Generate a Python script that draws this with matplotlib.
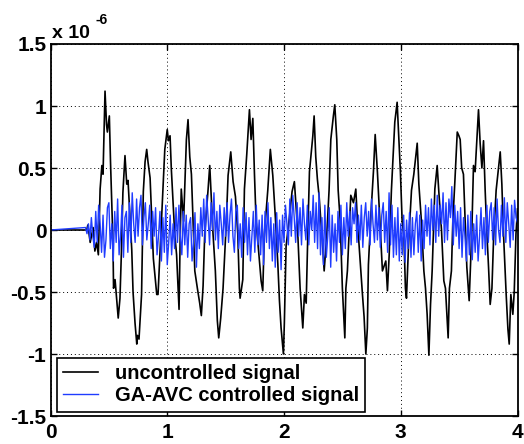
import numpy as np
import matplotlib
matplotlib.use("Agg")
import matplotlib.pyplot as plt

# ---- data (displacement, units of 1e-6) ----
# uncontrolled response: (time [s], value)
black_t = [0.00, 0.30, 0.31, 0.32, 0.34, 0.365, 0.38, 0.395, 0.41, 0.425, 0.44, 0.45,
           0.467, 0.48, 0.487, 0.504, 0.514, 0.524, 0.535, 0.54, 0.553, 0.58, 0.595,
           0.61, 0.62, 0.638, 0.653, 0.664, 0.696, 0.707, 0.724, 0.739, 0.745, 0.758,
           0.78, 0.795, 0.81, 0.824, 0.835, 0.853, 0.867, 0.881, 0.91, 0.921, 0.95,
           0.979, 1.0, 1.01, 1.024, 1.035, 1.064, 1.08, 1.093, 1.101, 1.11, 1.12, 1.14,
           1.164, 1.178, 1.193, 1.207, 1.221, 1.236, 1.258, 1.278, 1.292, 1.307, 1.321,
           1.35, 1.364, 1.378, 1.392, 1.412, 1.429, 1.441, 1.458, 1.478, 1.506, 1.521,
           1.544, 1.564, 1.584, 1.604, 1.618, 1.624, 1.647, 1.661, 1.681, 1.704, 1.718,
           1.733, 1.747, 1.761, 1.784, 1.804, 1.818, 1.832, 1.861, 1.883, 1.904, 1.926,
           1.947, 1.961, 1.975, 1.995, 2.003, 2.018, 2.046, 2.069, 2.089, 2.104, 2.118,
           2.138, 2.161, 2.175, 2.19, 2.204, 2.218, 2.247, 2.258, 2.272, 2.286, 2.301,
           2.315, 2.329, 2.344, 2.367, 2.386, 2.401, 2.423, 2.435, 2.452, 2.464, 2.481,
           2.5, 2.521, 2.53, 2.543, 2.572, 2.595, 2.615, 2.629, 2.652, 2.672, 2.686,
           2.701, 2.714, 2.723, 2.744, 2.766, 2.781, 2.8, 2.815, 2.829, 2.843, 2.872,
           2.886, 2.901, 2.92, 2.937, 2.949, 2.969, 2.984, 2.997, 3.012, 3.027, 3.04,
           3.049, 3.069, 3.092, 3.112, 3.141, 3.155, 3.177, 3.198, 3.212, 3.226, 3.241,
           3.255, 3.269, 3.292, 3.312, 3.326, 3.349, 3.369, 3.383, 3.406, 3.417, 3.434,
           3.446, 3.464, 3.484, 3.498, 3.509, 3.522, 3.537, 3.552, 3.566, 3.586, 3.609,
           3.623, 3.637, 3.652, 3.666, 3.68, 3.695, 3.709, 3.723, 3.738, 3.752, 3.766,
           3.781, 3.795, 3.817, 3.837, 3.852, 3.866, 3.88, 3.903, 3.918, 3.929, 3.943,
           3.96, 3.972, 3.987, 4.0]
black_v = [0.0, 0.0, 0.0, 0.04, -0.1, 0.02, -0.17, -0.1, -0.2, 0.33, 0.52, 0.45,
           1.12, 0.85, 0.79, 0.92, 0.55, 0.25, -0.1, -0.47, -0.4, -0.71, -0.55,
           -0.1, 0.3, 0.6, 0.37, 0.4, -0.16, -0.5, -0.75, -0.92, -0.85, -0.88,
           -0.52, 0.31, 0.55, 0.65, 0.55, 0.42, 0.09, -0.23, -0.52, -0.52, 0.07,
           0.65, 0.81, 0.72, 0.76, 0.49, -0.03, -0.2, -0.47, -0.64, -0.1, 0.33, 0.07,
           0.73, 0.89, 0.59, 0.45, 0.07, -0.33, -0.47, -0.59, -0.69, -0.45, -0.03,
           0.33, 0.52, 0.24, -0.03, -0.33, -0.73, -0.87, -0.71, -0.47, 0.07, 0.44,
           0.63, 0.39, 0.27, -0.03, -0.47, -0.55, -0.4, 0.33, 0.61, 0.97, 0.73,
           0.9, 0.45, 0.07, -0.19, -0.41, -0.49, -0.03, 0.32, 0.65, 0.44, 0.1,
           -0.27, -0.57, -0.79, -1.0, -0.75, -0.13, 0.1, 0.31, 0.39, 0.18, -0.03,
           -0.47, -0.79, -0.52, -0.59, -0.03, 0.47, 0.76, 0.92, 0.59, 0.41, 0.27,
           0.08, -0.09, -0.33, -0.03, 0.32, 0.73, 0.92, 1.01, 0.73, 0.32, 0.08,
           -0.47, -0.87, -0.47, -0.33, 0.28, 0.22, 0.33, 0.07, -0.25, -0.52, -0.7,
           -1.0, -0.79, -0.28, 0.12, 0.47, 0.77, 0.47, 0.19, -0.07, -0.33, -0.25,
           -0.49, -0.2, 0.32, 0.64, 0.87, 1.03, 0.73, 0.47, 0.07, -0.05, -0.47,
           -0.55, -0.07, 0.32, 0.45, 0.7, 0.37, 0.07, -0.33, -0.47, -0.68, -1.01,
           -0.6, -0.33, 0.33, 0.52, 0.31, 0.0, -0.41, -0.47, -0.87, -0.47, -0.33,
           0.07, 0.4, 0.79, 0.76, 0.73, 0.5, 0.45, 0.07, -0.3, -0.57, 0.0,
           0.52, 0.47, 0.73, 0.97, 0.7, 0.5, 0.72, 0.32, -0.03, -0.3, -0.6,
           -0.47, -0.07, 0.32, 0.5, 0.63, 0.37, -0.03, -0.52, -0.8, -0.92, -0.52,
           -0.68, -0.5, -0.03, 0.17]

# controlled response: samples every 12.5 ms from 0.30 s to 4.00 s
blue_t0 = 0.30
blue_dt = 0.0125
blue_v = [0.02, -0.03, 0.05, -0.08, 0.1, -0.05, -0.14, 0.15,
          -0.1, 0.2, 0.05, -0.18, 0.12, -0.22, -0.08, 0.18,
          0.22, -0.15, 0.05, -0.25, 0.15, -0.1, 0.25, -0.2,
          -0.05, 0.2, -0.22, 0.1, 0.15, -0.18, 0.22, -0.1,
          0.3, 0.05, -0.1, 0.25, -0.05, 0.18, 0.28, -0.12,
          0.1, 0.22, -0.08, 0.05, 0.2, -0.15, 0.15, -0.05,
          0.18, -0.2, -0.05, 0.15, -0.25, 0.1, -0.18, 0.2,
          -0.28, -0.1, 0.12, -0.2, 0.05, -0.15, 0.18, -0.1,
          0.2, -0.05, -0.2, 0.15, -0.12, 0.12, -0.22, 0.05,
          0.1, -0.25, -0.1, 0.14, -0.3, 0.05, -0.15, 0.18,
          -0.05, 0.25, -0.1, 0.28, 0.1, -0.12, 0.22, 0.0,
          0.3, -0.08, 0.15, -0.15, 0.2, 0.05, -0.12, 0.18,
          -0.05, 0.22, -0.1, 0.12, 0.25, -0.05, -0.18, 0.15,
          0.2, -0.15, 0.05, -0.22, 0.18, -0.1, 0.14, -0.2,
          0.1, -0.25, -0.05, 0.15, -0.18, 0.2, -0.12, 0.08,
          -0.2, 0.12, -0.28, 0.15, -0.1, 0.22, -0.15, 0.1,
          -0.25, 0.05, -0.3, 0.14, -0.18, 0.08, -0.32, 0.12,
          -0.1, 0.2, 0.05, -0.12, 0.25, -0.05, 0.28, 0.1,
          -0.1, 0.22, -0.05, 0.18, -0.12, 0.25, 0.05, -0.08,
          0.2, -0.12, 0.15, 0.0, 0.28, -0.1, 0.22, -0.15,
          0.3, -0.2, 0.1, -0.28, 0.2, -0.22, -0.05, 0.18,
          -0.3, 0.12, -0.18, 0.05, -0.25, 0.15, -0.1, 0.2,
          -0.2, 0.1, -0.15, 0.22, -0.05, 0.15, -0.12, 0.18,
          0.05, 0.22, -0.1, 0.12, -0.08, 0.2, -0.14, 0.1,
          0.22, -0.05, 0.15, -0.12, 0.25, 0.05, -0.1, 0.2,
          -0.08, 0.18, -0.14, 0.12, 0.22, -0.1, 0.15, -0.18,
          0.3, -0.12, 0.2, -0.22, 0.1, -0.2, 0.18, -0.25,
          0.05, -0.2, 0.12, -0.26, 0.08, -0.15, 0.14, -0.22,
          0.1, -0.2, 0.05, 0.15, -0.18, 0.12, -0.25, 0.08,
          -0.15, 0.2, -0.05, 0.18, -0.12, 0.25, 0.0, 0.2,
          -0.1, 0.28, -0.05, 0.2, 0.05, 0.3, -0.1, 0.22,
          -0.08, 0.25, 0.1, 0.35, -0.12, 0.2, -0.05, 0.15,
          -0.15, 0.18, -0.22, 0.1, -0.05, -0.25, 0.12, -0.2,
          0.15, -0.24, 0.05, -0.18, 0.12, -0.25, -0.05, 0.18,
          -0.15, 0.1, -0.2, 0.2, -0.1, 0.15, 0.22, -0.08,
          0.18, -0.12, 0.25, 0.0, -0.1, 0.2, -0.05, 0.26,
          -0.1, 0.22, 0.05, -0.14, 0.2, -0.08, 0.24, 0.1,
          0.06]

x_ticks = [0, 1, 2, 3, 4]
y_ticks = [-1.5, -1, -0.5, 0, 0.5, 1, 1.5]
y_tick_labels = ["-1.5", "-1", "-0.5", "0", "0.5", "1", "1.5"]
series_labels = ["uncontrolled signal", "GA-AVC controlled signal"]

# ---- figure ----
FONT = "Liberation Sans"
W, H = 524, 444
fig = plt.figure(figsize=(W / 100, H / 100), dpi=100)
left, right, top, bottom = 50.5, 517.5, 44.0, 416.0
ax = fig.add_axes([left / W, 1 - bottom / H, (right - left) / W, (bottom - top) / H])

# sample times of the controlled response (zero before excitation starts)
bt = np.r_[0.0, blue_t0 + blue_dt * np.arange(len(blue_v))]
bv = np.r_[0.0, blue_v]

ax.plot(black_t, black_v, color="black", lw=1.2, label=series_labels[0])
ax.plot(bt, bv, color="#1f3cff", lw=1.0, label=series_labels[1])

ax.set_xlim(0, 4)
ax.set_ylim(-1.5, 1.5)
ax.set_xticks(x_ticks)
ax.set_xticklabels([str(v) for v in x_ticks])
ax.set_yticks(y_ticks)
ax.set_yticklabels(y_tick_labels)
ax.grid(True, color="black", linestyle=(0, (1, 3)), lw=0.7)
ax.tick_params(direction="in", length=4, width=1, top=True, right=True,
               labelsize=15)
ax.tick_params(axis="y", pad=3)
ax.tick_params(axis="x", pad=5)
for lab in ax.get_xticklabels() + ax.get_yticklabels():
    lab.set_fontfamily(FONT)
    lab.set_fontweight("bold")
for s in ax.spines.values():
    s.set_linewidth(1.3)

# exponent label above the axes
fig.text(52 / W, 1 - 38 / H, "x 10", fontsize=14, fontweight="bold",
         family=FONT, va="baseline", ha="left")
fig.text(95 / W, 1 - 24 / H, "-6", fontsize=10, fontweight="bold",
         family=FONT, va="baseline", ha="left")

leg = ax.legend(loc="lower left", bbox_to_anchor=(0.013, 0.012),
                prop={"family": FONT, "weight": "bold", "size": 14.5},
                frameon=True, fancybox=False, handlelength=1.75,
                borderpad=0.3, labelspacing=0.18, handletextpad=0.85,
                borderaxespad=0)
leg.get_frame().set_edgecolor("black")
leg.get_frame().set_linewidth(1.2)
leg.get_frame().set_alpha(1)

fig.savefig("out.png", dpi=100)
